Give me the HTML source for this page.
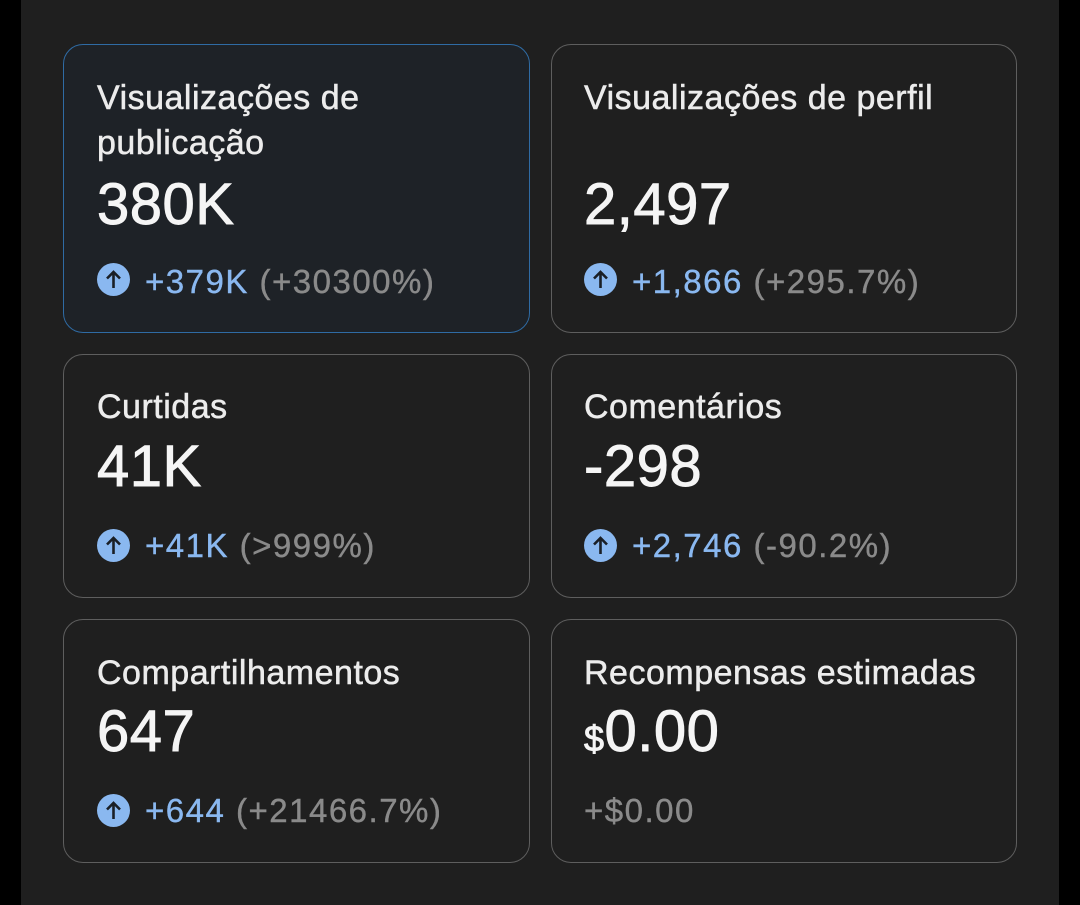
<!DOCTYPE html>
<html><head><meta charset="utf-8"><style>
*{margin:0;padding:0;box-sizing:border-box}
body{width:1080px;height:905px;background:#000;position:relative;overflow:hidden;font-family:"Liberation Sans",sans-serif}
.panel{position:absolute;left:21px;top:0;width:1038px;height:905px;background:#1f1f1f}
.card{position:absolute;border:1.5px solid #5e5e5e;border-radius:20px;background:#1f1f1f}
.card.sel{background:#1e2227;border-color:#2f6ba4}
.t{position:absolute;font-size:34px;line-height:45px;color:#ececec;white-space:nowrap;-webkit-text-stroke:0.5px #ececec;letter-spacing:0.5px}
.n{position:absolute;font-size:58px;line-height:1;color:#f5f5f5;letter-spacing:0.5px;white-space:nowrap;-webkit-text-stroke:0.9px #f5f5f5}
.c{position:absolute;font-size:33px;line-height:1;white-space:nowrap;-webkit-text-stroke:0.4px currentColor;letter-spacing:1.5px}
.b{color:#8ab8f0}.g{color:#8a8a8a}
.ic{position:absolute;width:33px;height:33px;border-radius:50%;background:#8ab8f0}
.ic svg{position:absolute;left:0;top:0}
</style></head><body>
<div class="panel"></div>
<div class="card sel" style="left:63px;top:44px;width:467px;height:289px"></div>
<div class="card" style="left:551px;top:44px;width:466px;height:289px"></div>
<div class="card" style="left:63px;top:354px;width:467px;height:244px"></div>
<div class="card" style="left:551px;top:354px;width:466px;height:244px"></div>
<div class="card" style="left:63px;top:619px;width:467px;height:244px"></div>
<div class="card" style="left:551px;top:619px;width:466px;height:244px"></div>

<div class="t" style="left:97px;top:76px">Visualizações de<br>publicação</div>
<div class="n" style="left:97px;top:176px">380K</div>
<div class="ic" style="left:97px;top:263px"><svg width="33" height="33"><path d="M16.5 25V9M10 15.5l6.5-6.5 6.5 6.5" stroke="#1a1f26" stroke-width="2.6" fill="none"/></svg></div>
<div class="c" style="left:145px;top:265px"><span class="b">+379K</span><span class="g">&nbsp;(+30300%)</span></div>

<div class="t" style="left:584px;top:76px">Visualizações de perfil</div>
<div class="n" style="left:584px;top:176px">2,497</div>
<div class="ic" style="left:584px;top:263px"><svg width="33" height="33"><path d="M16.5 25V9M10 15.5l6.5-6.5 6.5 6.5" stroke="#1a1f26" stroke-width="2.6" fill="none"/></svg></div>
<div class="c" style="left:632px;top:265px"><span class="b">+1,866</span><span class="g">&nbsp;(+295.7%)</span></div>

<div class="t" style="left:97px;top:385px">Curtidas</div>
<div class="n" style="left:97px;top:438px">41K</div>
<div class="ic" style="left:97px;top:529px"><svg width="33" height="33"><path d="M16.5 25V9M10 15.5l6.5-6.5 6.5 6.5" stroke="#1a1f26" stroke-width="2.6" fill="none"/></svg></div>
<div class="c" style="left:145px;top:529px"><span class="b">+41K</span><span class="g">&nbsp;(&gt;999%)</span></div>

<div class="t" style="left:584px;top:385px">Comentários</div>
<div class="n" style="left:584px;top:438px">-298</div>
<div class="ic" style="left:584px;top:529px"><svg width="33" height="33"><path d="M16.5 25V9M10 15.5l6.5-6.5 6.5 6.5" stroke="#1a1f26" stroke-width="2.6" fill="none"/></svg></div>
<div class="c" style="left:632px;top:529px"><span class="b">+2,746</span><span class="g">&nbsp;(-90.2%)</span></div>

<div class="t" style="left:97px;top:651px">Compartilhamentos</div>
<div class="n" style="left:97px;top:703px">647</div>
<div class="ic" style="left:97px;top:794px"><svg width="33" height="33"><path d="M16.5 25V9M10 15.5l6.5-6.5 6.5 6.5" stroke="#1a1f26" stroke-width="2.6" fill="none"/></svg></div>
<div class="c" style="left:145px;top:794px"><span class="b">+644</span><span class="g">&nbsp;(+21466.7%)</span></div>

<div class="t" style="left:584px;top:651px">Recompensas estimadas</div>
<div class="n" style="left:584px;top:703px"><span style="font-size:36px">$</span>0.00</div>
<div class="c" style="left:584px;top:794px"><span class="g">+$0.00</span></div>
</body></html>
